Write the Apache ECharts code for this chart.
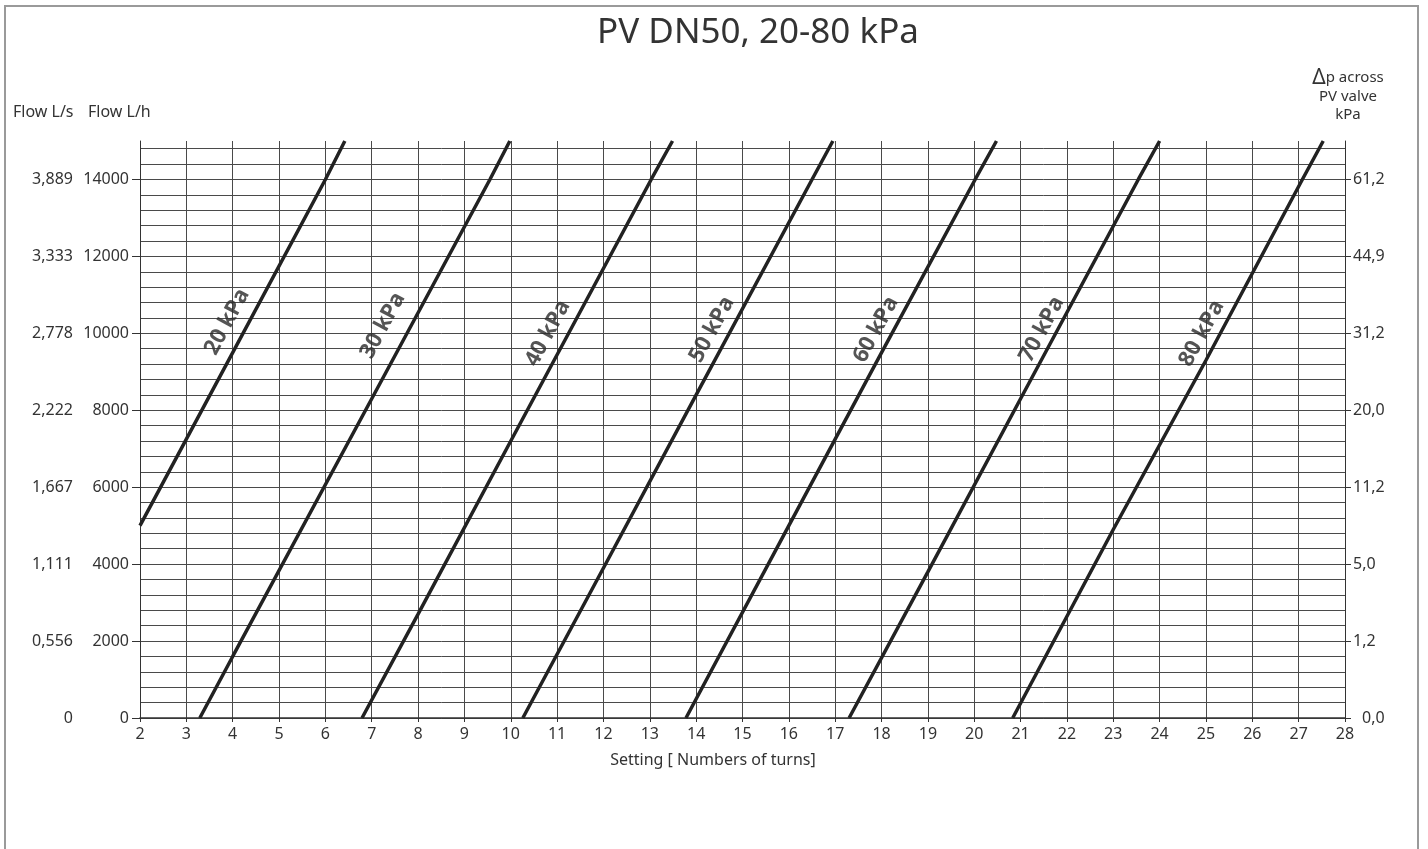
<!DOCTYPE html>
<html>
<head>
<meta charset="utf-8">
<script src="https://cdn.jsdelivr.net/npm/echarts@6/dist/echarts.min.js"></script>
<style>
html,body{margin:0;padding:0;background:#fff;}
#chart{width:1428px;height:849px;}
</style>
</head>
<body>
<div id="chart"></div>
<script>
// ---- data ----
const titleText = 'PV DN50, 20-80 kPa';
const flowLhTicks = [0, 2000, 4000, 6000, 8000, 10000, 12000, 14000];
const flowLhLabels = ['0', '2000', '4000', '6000', '8000', '10000', '12000', '14000'];
const flowLsLabels = ['0', '0,556', '1,111', '1,667', '2,222', '2,778', '3,333', '3,889'];
const dpLabels = ['0,0', '1,2', '5,0', '11,2', '20,0', '31,2', '44,9', '61,2'];
const seriesNames = ['20 kPa', '30 kPa', '40 kPa', '50 kPa', '60 kPa', '70 kPa', '80 kPa'];
const p20 = [[2.0, 5000], [4.0, 9500], [6.0, 14000], [6.42, 15000]];
const p30 = [[3.29, 0], [4.0, 1600], [7.0, 8300], [9.55, 14000], [9.98, 15000]];
const p40 = [[6.79, 0], [8.0, 2700], [10.0, 7200], [13.03, 14000], [13.49, 15000]];
const p50 = [[10.26, 0], [12.0, 3900], [14.0, 8400], [16.5, 14000], [16.95, 15000]];
const p60 = [[13.78, 0], [16.0, 5000], [18.0, 9500], [20.02, 14000], [20.48, 15000]];
const p70 = [[17.30, 0], [19.0, 3800], [21.0, 8300], [23.54, 14000], [24.0, 15000]];
const p80 = [[20.83, 0], [23.0, 4900], [25.0, 9300], [27.08, 14000], [27.53, 15000]];
const labelAt = [[3.88, 10300], [7.24, 10200], [10.80, 10000], [14.34, 10100], [17.88, 10100], [21.46, 10100], [24.91, 10000]];

const curves = [p20, p30, p40, p50, p60, p70, p80];
const FONT = '"Noto Sans", "DejaVu Sans", sans-serif';
const TXT = '#333';
const GRIDC = '#4a4a4a';

function pick(arr) {
  return function (v) {
    const i = flowLhTicks.indexOf(v);
    return i >= 0 ? arr[i] : '';
  };
}

const series = curves.map((d, i) => ({
  name: seriesNames[i],
  type: 'line',
  data: d,
  showSymbol: false,
  symbol: 'none',
  silent: true,
  lineStyle: { color: '#222', width: 3.5 },
  z: 5
}));
series.push({
  type: 'scatter',
  silent: true,
  symbolSize: 0,
  data: labelAt.map((p, i) => ({ value: p, name: seriesNames[i] })),
  label: {
    show: true,
    position: 'inside',
    formatter: '{b}',
    rotate: 61.6,
    fontFamily: FONT,
    fontWeight: 'bold',
    fontSize: 22,
    color: '#2a2a2a'
  },
  z: 6
});

const chart = echarts.init(document.getElementById('chart'), null, { renderer: 'canvas' });
chart.setOption({
  animation: false,
  backgroundColor: '#fff',
  grid: { left: 140, right: 83, top: 141, bottom: 131, containLabel: false },
  xAxis: {
    type: 'value',
    min: 2, max: 28, interval: 1,
    axisLine: { show: true, lineStyle: { color: '#333', width: 1.5 } },
    axisTick: { show: true, length: 4, lineStyle: { color: '#333' } },
    axisLabel: { fontFamily: FONT, fontSize: 16, color: TXT, margin: 8 },
    splitLine: { show: true, lineStyle: { color: GRIDC, width: 1 } }
  },
  yAxis: [
    {
      type: 'value', position: 'left',
      min: 0, max: 15000, interval: 400,
      axisLine: { show: true, lineStyle: { color: '#333', width: 1 } },
      axisTick: { show: true, customValues: flowLhTicks, length: 8, lineStyle: { color: '#333' } },
      axisLabel: { customValues: flowLhTicks, formatter: pick(flowLhLabels), fontFamily: FONT, fontSize: 16, color: TXT, margin: 11 },
      splitLine: { show: false }
    },
    {
      type: 'value', position: 'left', offset: 60,
      min: 0, max: 15000,
      axisLine: { show: false },
      axisTick: { show: false },
      axisLabel: { customValues: flowLhTicks, formatter: pick(flowLsLabels), fontFamily: FONT, fontSize: 16, color: TXT, margin: 7 },
      splitLine: { show: false }
    },
    {
      type: 'value', position: 'right',
      min: 0, max: 15000,
      axisLine: { show: true, lineStyle: { color: '#333', width: 1 } },
      axisTick: { show: true, customValues: flowLhTicks, length: 6, lineStyle: { color: '#333' } },
      axisLabel: {
        customValues: flowLhTicks,
        formatter: function (v) { const s = pick(dpLabels)(v); return v === 0 ? '{z|' + s + '}' : s; },
        rich: { z: { padding: [0, 0, 0, 9], fontFamily: FONT, fontSize: 16, color: TXT } },
        fontFamily: FONT, fontSize: 16, color: TXT, margin: 8
      },
      splitLine: { show: false }
    },
    {
      type: 'value', position: 'left',
      min: 0, max: 15000, interval: 400,
      axisLine: { show: false },
      axisTick: { show: false },
      axisLabel: { show: false },
      splitLine: { show: true, showMaxLine: false, lineStyle: { color: GRIDC, width: 1 } }
    }
  ],
  graphic: [
    { type: 'rect', silent: true, shape: { x: 5, y: 6, width: 1413, height: 900 }, style: { fill: 'none', stroke: '#9a9a9a', lineWidth: 2 } },
    { type: 'text', silent: true, x: 758, y: 33, style: { text: titleText, font: '35px ' + FONT, fill: '#333', align: 'center', verticalAlign: 'middle' } },
    { type: 'text', silent: true, x: 13, y: 112, style: { text: 'Flow L/s', font: '16px ' + FONT, fill: TXT, align: 'left', verticalAlign: 'middle' } },
    { type: 'text', silent: true, x: 88, y: 112, style: { text: 'Flow L/h', font: '16px ' + FONT, fill: TXT, align: 'left', verticalAlign: 'middle' } },
    { type: 'text', silent: true, x: 1348, y: 96, style: {
        text: '{d|Δ}{s|p across}\n{s|PV valve}\n{s|kPa}',
        align: 'center', verticalAlign: 'middle',
        rich: {
          d: { font: '21px ' + FONT, fill: TXT, lineHeight: 19 },
          s: { font: '15px ' + FONT, fill: TXT, lineHeight: 18 }
        }
      } },
    { type: 'text', silent: true, x: 713, y: 760, style: { text: 'Setting [ Numbers of turns]', font: '16px ' + FONT, fill: TXT, align: 'center', verticalAlign: 'middle' } }
  ],
  series: series
});
</script>
</body>
</html>
